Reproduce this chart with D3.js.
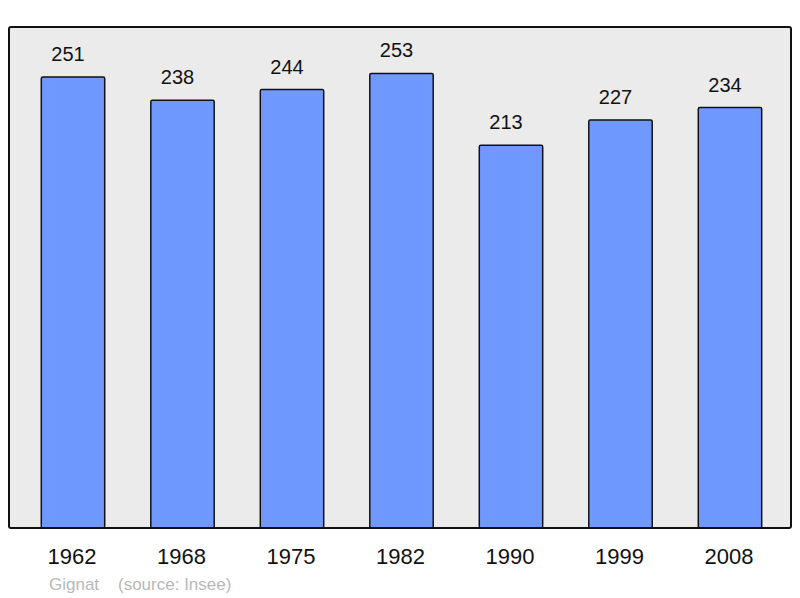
<!DOCTYPE html>
<html><head><meta charset="utf-8">
<script src="https://cdn.jsdelivr.net/npm/d3@7"></script>
<style>body{margin:0;background:#fff}svg{display:block}</style>
</head><body>
<svg id="c" width="800" height="598"></svg>
<script>
const years = ["1962","1968","1975","1982","1990","1999","2008"];
const population = [251,238,244,253,213,227,234];
const townLabel = "Gignat";
const sourceLabel = "(source: Insee)";

const font = "Liberation Sans, Arial, sans-serif";
const svg = d3.select("#c");
const panel = {x0: 9, y0: 27, x1: 791, y1: 528};
svg.append("rect").attr("x", panel.x0).attr("y", panel.y0)
  .attr("width", panel.x1 - panel.x0).attr("height", panel.y1 - panel.y0)
  .attr("rx", 2).attr("fill", "#ebebeb");

const x = d3.scaleBand().domain(years).range([18.25, 784.75]).paddingInner(0.421).paddingOuter(0.2105);
const y = d3.scaleLinear().domain([0, 251]).range([panel.y1, 77]);

svg.selectAll("rect.bar").data(population).join("rect").attr("class","bar")
  .attr("x", (d,i) => x(years[i])).attr("width", x.bandwidth())
  .attr("y", d => y(d)).attr("height", d => panel.y1 - y(d))
  .attr("rx", 1.5).attr("fill", "#7099ff").attr("stroke", "#111").attr("stroke-width", 1.5);

svg.selectAll("text.val").data(population).join("text").attr("class","val")
  .attr("x", (d,i) => x(years[i]) + x.bandwidth()/2 - 5).attr("y", d => y(d) - 16)
  .attr("text-anchor","middle").attr("font-family", font)
  .attr("font-size", 20).attr("fill","#111").text(d => d);

svg.append("rect").attr("x", panel.x0).attr("y", panel.y0)
  .attr("width", panel.x1 - panel.x0).attr("height", panel.y1 - panel.y0)
  .attr("rx", 2).attr("fill", "none").attr("stroke", "#111").attr("stroke-width", 2);

const xAxis = d3.axisBottom(x).tickSize(0).tickPadding(0);
const g = svg.append("g").attr("transform", `translate(-1,${panel.y1})`).call(xAxis);
g.select(".domain").remove();
g.selectAll("text").attr("y", 36).attr("dy", 0).attr("font-family", font)
  .attr("font-size", 22).attr("fill","#111");

svg.append("text").attr("x", 49).attr("y", 589.5)
  .attr("font-family", font).attr("font-size", 17).attr("fill","#b8b8b8").text(townLabel);
svg.append("text").attr("x", 118).attr("y", 589.5)
  .attr("font-family", font).attr("font-size", 17).attr("fill","#b8b8b8").text(sourceLabel);
</script>
</body></html>
